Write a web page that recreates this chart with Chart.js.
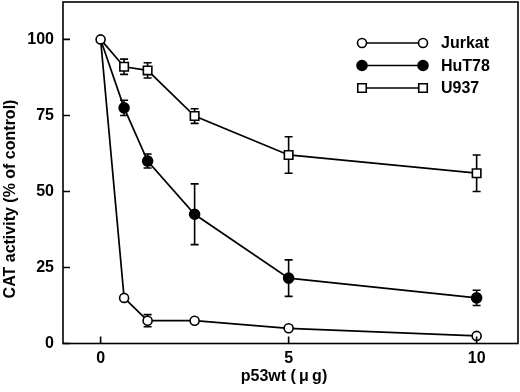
<!DOCTYPE html>
<html>
<head>
<meta charset="utf-8">
<script src="https://cdn.jsdelivr.net/npm/chart.js@4.4.0/dist/chart.umd.min.js"></script>
<style>
  html, body { margin: 0; padding: 0; background: #fff; }
</style>
</head>
<body>
<canvas id="cat" width="520" height="392"></canvas>
<script>
// p53wt dose (ug) and CAT activity (% of control)
const doses = [0, 0.625, 1.25, 2.5, 5, 10];
const jurkat = [100, 15, 7.5, 7.5, 5, 2.5];
const jurkatErr = [0, 0, 2, 0, 0, 0];
const hut78 = [100, 77.5, 60, 42.5, 21.5, 15];
const hut78Err = [0, 2.5, 2.3, 10, 6, 2.5];
const u937 = [100, 91, 89.8, 74.8, 62, 56];
const u937Err = [0, 2.5, 2.5, 2.4, 6, 6];
const xTicks = [0, 5, 10];
const yTicks = [0, 25, 50, 75, 100];

const FONT = 'bold 16px "Liberation Sans", Arial, sans-serif';

function pts(vals) {
  return doses.map((d, i) => ({ x: d, y: vals[i] }));
}

function marker(ctx, style, fill, r, x, y) {
  ctx.beginPath();
  if (style === 'rect') {
    const s = r * Math.SQRT1_2;
    ctx.rect(x - s, y - s, 2 * s, 2 * s);
  } else {
    ctx.arc(x, y, r, 0, Math.PI * 2);
  }
  ctx.fillStyle = fill;
  ctx.fill();
  ctx.stroke();
}

const extras = {
  id: 'extras',
  beforeDatasetsDraw(chart) {
    const { ctx, scales: { x, y } } = chart;
    ctx.save();
    ctx.strokeStyle = '#000';
    ctx.lineWidth = 1.6;
    chart.data.datasets.forEach(ds => {
      ds.err.forEach((e, i) => {
        if (!e) return;
        const px = x.getPixelForValue(doses[i]);
        const v = ds.data[i].y;
        const t = y.getPixelForValue(v + e);
        const b = y.getPixelForValue(v - e);
        ctx.beginPath();
        ctx.moveTo(px, t); ctx.lineTo(px, b);
        ctx.moveTo(px - 4, t); ctx.lineTo(px + 4, t);
        ctx.moveTo(px - 4, b); ctx.lineTo(px + 4, b);
        ctx.stroke();
      });
    });
    ctx.restore();
  },
  afterDraw(chart) {
    const { ctx, chartArea: a, scales: { x, y } } = chart;
    ctx.save();
    ctx.strokeStyle = '#000';
    ctx.lineWidth = 1.6;
    ctx.strokeRect(a.left, a.top, a.right - a.left, a.bottom - a.top);
    // inward tick marks
    ctx.beginPath();
    x.ticks.forEach(t => {
      const px = x.getPixelForValue(t.value);
      ctx.moveTo(px, a.bottom); ctx.lineTo(px, a.bottom - 7);
    });
    y.ticks.forEach(t => {
      const py = y.getPixelForValue(t.value);
      ctx.moveTo(a.left, py); ctx.lineTo(a.left + 7, py);
    });
    ctx.stroke();

    // axis titles
    ctx.fillStyle = '#000';
    ctx.font = FONT;
    ctx.textAlign = 'center';
    ctx.textBaseline = 'middle';
    ctx.fillText('p53wt (\u2009μ\u2009g)', 284, 377);
    ctx.save();
    ctx.translate(11, 199);
    ctx.rotate(-Math.PI / 2);
    ctx.fillText('CAT activity (% of control)', 0, 0);
    ctx.restore();

    // legend
    chart.data.datasets.forEach((ds, i) => {
      const ly = 43 + i * 22.5;
      const r = ds.legendRadius;
      ctx.lineWidth = 1.6;
      ctx.beginPath();
      ctx.moveTo(362, ly); ctx.lineTo(423, ly);
      ctx.stroke();
      marker(ctx, ds.pointStyle, ds.pointBackgroundColor, r, 362, ly);
      marker(ctx, ds.pointStyle, ds.pointBackgroundColor, r, 423, ly);
      ctx.fillStyle = '#000';
      ctx.textAlign = 'left';
      ctx.fillText(ds.label, 441, ly + 1);
    });
    ctx.restore();
  }
};

const common = {
  borderColor: '#000',
  borderWidth: 1.7,
  pointBorderColor: '#000',
  pointBorderWidth: 1.6,
  tension: 0,
  fill: false,
  clip: false
};

// the shared control point at dose 0 shows only the Jurkat marker
const hidden0 = r => ctx => (ctx.dataIndex === 0 ? 0 : r);

const tickFont = { family: '"Liberation Sans", Arial, sans-serif', size: 16, weight: 'bold' };

new Chart(document.getElementById('cat'), {
  type: 'line',
  data: {
    datasets: [
      Object.assign({ label: 'Jurkat', data: pts(jurkat), err: jurkatErr, legendRadius: 4.5,
        pointStyle: 'circle', pointRadius: 4.5, pointBackgroundColor: '#fff' }, common),
      Object.assign({ label: 'HuT78', data: pts(hut78), err: hut78Err, legendRadius: 5,
        pointStyle: 'circle', pointRadius: hidden0(5), pointBackgroundColor: '#000' }, common),
      Object.assign({ label: 'U937', data: pts(u937), err: u937Err, legendRadius: 6,
        pointStyle: 'rect', pointRadius: hidden0(6), pointBackgroundColor: '#fff' }, common)
    ]
  },
  options: {
    responsive: false,
    animation: false,
    layout: { autoPadding: false, padding: { top: 2, right: 2, left: 0, bottom: 0 } },
    plugins: { legend: { display: false }, tooltip: { enabled: false } },
    scales: {
      x: {
        type: 'linear',
        min: -1,
        max: 11.1,
        afterBuildTicks: s => { s.ticks = xTicks.map(v => ({ value: v })); },
        afterFit: s => { s.height = 48.5; s.paddingLeft = 0; s.paddingRight = 0; },
        grid: { display: false, drawTicks: false },
        border: { display: false },
        ticks: { padding: 5, color: '#000', font: tickFont }
      },
      y: {
        min: 0,
        max: 112.3,
        afterBuildTicks: s => { s.ticks = yTicks.map(v => ({ value: v })); },
        afterFit: s => { s.width = 63; s.paddingTop = 0; s.paddingBottom = 0; },
        grid: { display: false, drawTicks: false },
        border: { display: false },
        ticks: { padding: 9, color: '#000', font: tickFont }
      }
    }
  },
  plugins: [extras]
});
</script>
</body>
</html>
